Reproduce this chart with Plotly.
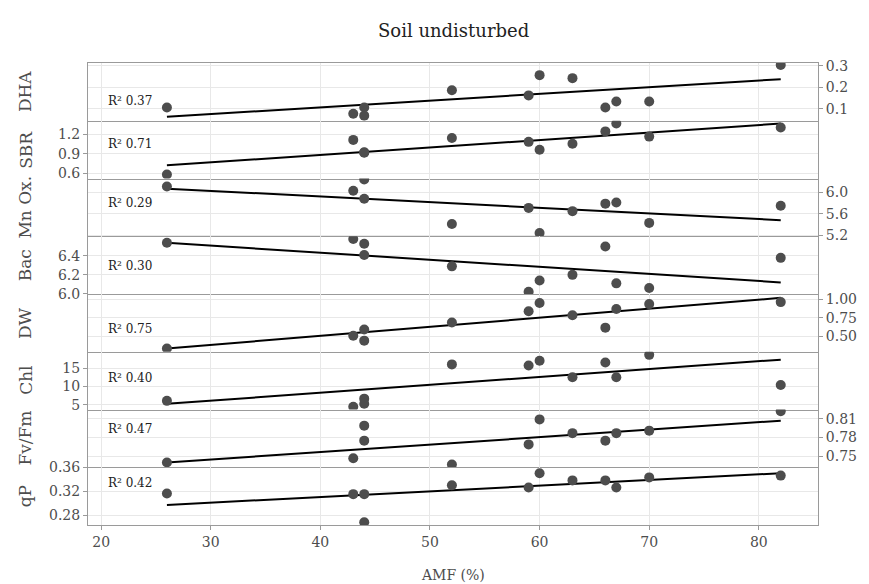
import plotly.graph_objects as go
from plotly.subplots import make_subplots

# ---------------- data ----------------
amf = [26, 43, 44, 44, 52, 59, 60, 63, 66, 67, 70, 82]

dha = [0.105, 0.076, 0.105, 0.067, 0.186, 0.162, 0.257, 0.243, 0.105, 0.133, 0.133, 0.305]
sbr = [0.58, 1.11, 0.915, 0.92, 1.14, 1.08, 0.96, 1.05, 1.24, 1.36, 1.16, 1.30]
mnox = [6.11, 6.03, 6.24, 5.88, 5.41, 5.71, 5.24, 5.65, 5.79, 5.81, 5.43, 5.75]
bac = [6.54, 6.58, 6.53, 6.41, 6.29, 6.02, 6.14, 6.20, 6.50, 6.11, 6.06, 6.38]
dw = [0.34, 0.51, 0.595, 0.445, 0.69, 0.84, 0.95, 0.786, 0.62, 0.87, 0.936, 0.963]
chl = [6.1, 4.5, 6.7, 5.3, 16.0, 15.7, 17.0, 12.5, 16.5, 12.5, 18.6, 10.4]
fvfm = [0.740, 0.747, 0.775, 0.799, 0.737, 0.769, 0.809, 0.787, 0.775, 0.787, 0.791, 0.822]
qp = [0.316, 0.315, 0.315, 0.268, 0.330, 0.326, 0.350, 0.338, 0.338, 0.326, 0.343, 0.346]

panel_names = ["DHA", "SBR", "Mn Ox.", "Bac", "DW", "Chl", "Fv/Fm", "qP"]
panel_values = [dha, sbr, mnox, bac, dw, chl, fvfm, qp]
r2_labels = ["0.37", "0.71", "0.29", "0.30", "0.75", "0.40", "0.47", "0.42"]
# fitted line value at min AMF and at max AMF
line_start = [0.062, 0.72, 6.07, 6.54, 0.34, 5.3, 0.740, 0.297]
line_end = [0.238, 1.36, 5.48, 6.12, 1.02, 17.3, 0.807, 0.350]

y_tickvals = [[0.1, 0.2, 0.3], [0.6, 0.9, 1.2], [5.2, 5.6, 6.0], [6.0, 6.2, 6.4],
              [0.50, 0.75, 1.00], [5, 10, 15], [0.75, 0.78, 0.81], [0.28, 0.32, 0.36]]
y_ticktext = [["0.1", "0.2", "0.3"], ["0.6", "0.9", "1.2"], ["5.2", "5.6", "6.0"],
              ["6.0", "6.2", "6.4"], ["0.50", "0.75", "1.00"], ["5", "10", "15"],
              ["0.75", "0.78", "0.81"], ["0.28", "0.32", "0.36"]]
x_ticks = [20, 30, 40, 50, 60, 70, 80]

# ---------------- styling / layout ----------------
y_ranges = [[0.043, 0.314], [0.519, 1.403], [5.181, 6.259], [5.997, 6.609],
            [0.296, 1.072], [3.75, 19.44], [0.7325, 0.8248], [0.2634, 0.360]]
y_sides = ["right", "left", "right", "left", "right", "left", "right", "left"]
r2_ypos = [0.35, 0.59, 0.57, 0.48, 0.40, 0.55, 0.66, 0.73]

FONT = "DejaVu Serif"
GRID = "#e8e8e8"
BORDER = "#9a9a9a"
PT = "#4d4d4d"

fig = make_subplots(rows=8, cols=1, shared_xaxes=True, vertical_spacing=0)

xmin, xmax = min(amf), max(amf)
for i, vals in enumerate(panel_values):
    row = i + 1
    fig.add_trace(go.Scatter(x=[xmin, xmax], y=[line_start[i], line_end[i]], mode="lines",
                             line=dict(color="black", width=2), showlegend=False,
                             hoverinfo="skip"), row=row, col=1)
    fig.add_trace(go.Scatter(x=amf, y=vals, mode="markers",
                             marker=dict(color=PT, size=10, line=dict(width=0)),
                             showlegend=False, name=panel_names[i]), row=row, col=1)
    fig.update_yaxes(row=row, col=1, range=y_ranges[i], tickvals=y_tickvals[i],
                     ticktext=y_ticktext[i], side=y_sides[i], showgrid=True, gridcolor=GRID,
                     gridwidth=1, zeroline=False, showline=True, mirror=True,
                     linecolor=BORDER, linewidth=1, ticks="outside", ticklen=4,
                     tickcolor=BORDER, tickfont=dict(family=FONT, size=14, color="#4d4d4d"))
    fig.update_xaxes(row=row, col=1, range=[18.8, 85.4], tickvals=x_ticks, showgrid=True,
                     gridcolor=GRID, gridwidth=1, zeroline=False, showline=True,
                     mirror=(row == 1), showticklabels=(row == 8),
                     linecolor=BORDER, linewidth=1.2,
                     ticks="outside" if row == 8 else "", ticklen=4, tickcolor=BORDER,
                     tickfont=dict(family=FONT, size=14, color="#4d4d4d"))

    yname = "y" if row == 1 else f"y{row}"
    # R^2 annotation
    fig.add_annotation(x=20.4, y=r2_ypos[i], xref="x", yref=f"{yname} domain",
                       text=f"R\u00b2 {r2_labels[i]}", showarrow=False,
                       xanchor="left", yanchor="middle",
                       font=dict(family=FONT, size=12, color="#222222"))
    # panel title on the left
    fig.add_annotation(x=-0.086, y=0.5, xref="paper", yref=f"{yname} domain",
                       text=panel_names[i], showarrow=False, textangle=-90,
                       xanchor="center", yanchor="middle",
                       font=dict(family=FONT, size=17, color="#4d4d4d"))

fig.add_annotation(x=0.5, y=-0.108, xref="paper", yref="paper", text="AMF (%)",
                   showarrow=False, xanchor="center", yanchor="middle",
                   font=dict(family=FONT, size=14, color="#4d4d4d"))
fig.add_annotation(x=0.5, y=1.071, xref="paper", yref="paper", text="Soil undisturbed",
                   showarrow=False, xanchor="center", yanchor="middle",
                   font=dict(family=FONT, size=18, color="#222222"))

fig.update_layout(width=869, height=584, margin=dict(l=88, r=49, t=63, b=59),
                  plot_bgcolor="white", paper_bgcolor="white", showlegend=False)

fig.write_html("out.html")
